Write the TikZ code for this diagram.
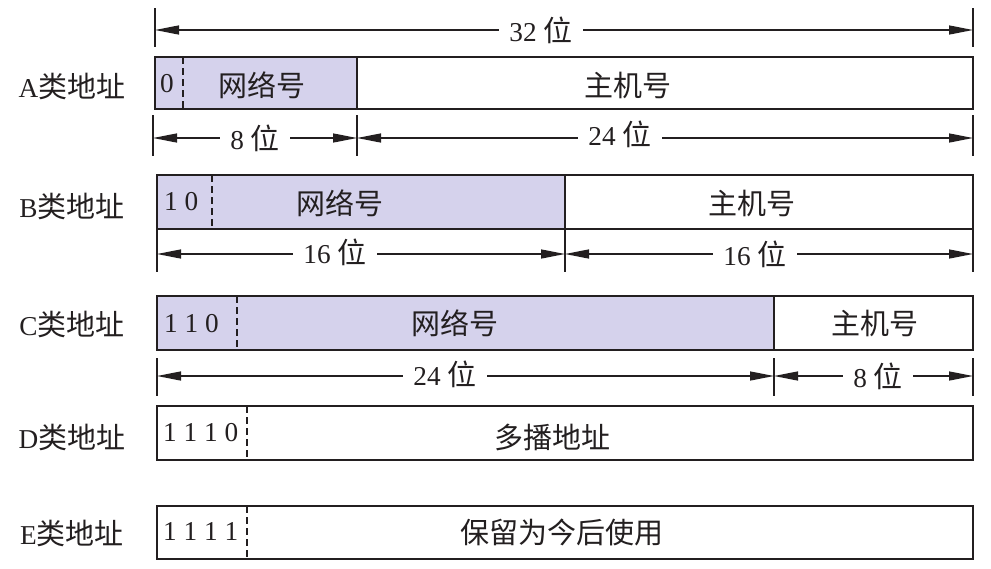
\documentclass[tikz,border=0pt]{standalone}
\usepackage{fontspec}
\setmainfont{Liberation Serif}[Scale=0.94]
\newfontfamily\cjk{Noto Sans CJK SC}
\usetikzlibrary{arrows.meta}
\definecolor{netc}{RGB}{213,210,236}
\definecolor{ink}{RGB}{35,31,32}
\tikzset{
  boxline/.style={draw=ink, line width=1.8pt},
  dashline/.style={draw=ink, line width=2pt, dash pattern=on 7pt off 4pt},
  tickline/.style={draw=ink, line width=1.4pt},
  dimline/.style={draw=ink, line width=1.3pt, {Triangle[length=24pt,width=9pt]}-{Triangle[length=24pt,width=9pt]}},
  lbl/.style={font=\fontsize{29}{31}\selectfont, text=ink, inner sep=0pt},
  dimlbl/.style={lbl, fill=white, inner xsep=10pt, inner ysep=2pt},
}
\begin{document}
\begin{tikzpicture}[x=1pt,y=-1pt]
\useasboundingbox[fill=white] (0,0) rectangle (991,568);
% ---------------- A ----------------
\node[lbl] (la) at (72,86) {A\cjk 类地址};
\fill[netc] (155,57) rectangle (357,109);
\draw[boxline] (155,57) rectangle (973,109);
\draw[boxline] (357,57) -- (357,109);
\draw[dashline] (183,57) -- (183,109);
\node[lbl, anchor=west] (a0) at (160,84) {0};
\node[lbl] (anet) at (262,85) {\cjk 网络号};
\node[lbl] (ahost) at (628,85) {\cjk 主机号};
% top 32
\coordinate (t1) at (155,30); \coordinate (t2) at (973,30);
\draw[tickline] (155,8) -- (155,47);
\draw[tickline] (973,8) -- (973,47);
\draw[dimline] (t1) -- (t2);
\node[dimlbl] (d32) at (541,30) {32 \cjk 位};
% below A
\coordinate (a1) at (153,138); \coordinate (a2) at (357,138); \coordinate (a3) at (973,138);
\draw[tickline] (153,115) -- (153,156);
\draw[tickline] (357,115) -- (357,156);
\draw[tickline] (973,115) -- (973,156);
\draw[dimline] (a1) -- (a2);
\draw[dimline] (a2) -- (a3);
\node[dimlbl] (d8a) at (255,138) {8 \cjk 位};
\node[dimlbl] (d24a) at (620,134) {24 \cjk 位};
% ---------------- B ----------------
\node[lbl] (lb) at (72,206) {B\cjk 类地址};
\fill[netc] (157,175) rectangle (565,229);
\draw[boxline] (157,175) rectangle (973,229);
\draw[boxline] (565,175) -- (565,229);
\draw[dashline] (212,175) -- (212,229);
\node[lbl, anchor=west] (b0) at (164,202) {1 0};
\node[lbl] (bnet) at (340,203) {\cjk 网络号};
\node[lbl] (bhost) at (752,203) {\cjk 主机号};
\coordinate (b1) at (157,254); \coordinate (b2) at (565,254); \coordinate (b3) at (973,254);
\draw[tickline] (157,230) -- (157,272);
\draw[tickline] (565,230) -- (565,272);
\draw[tickline] (973,230) -- (973,272);
\draw[dimline] (b1) -- (b2);
\draw[dimline] (b2) -- (b3);
\node[dimlbl] (d16a) at (335,252) {16 \cjk 位};
\node[dimlbl] (d16b) at (755,254) {16 \cjk 位};
% ---------------- C ----------------
\node[lbl] (lc) at (72,324) {C\cjk 类地址};
\fill[netc] (157,296) rectangle (774,350);
\draw[boxline] (157,296) rectangle (973,350);
\draw[boxline] (774,296) -- (774,350);
\draw[dashline] (237,296) -- (237,350);
\node[lbl, anchor=west] (c0) at (164,324) {1 1 0};
\node[lbl] (cnet) at (455,323) {\cjk 网络号};
\node[lbl] (chost) at (875,323) {\cjk 主机号};
\coordinate (c1) at (157,376); \coordinate (c2) at (774,376); \coordinate (c3) at (973,376);
\draw[tickline] (157,358) -- (157,396);
\draw[tickline] (774,358) -- (774,396);
\draw[tickline] (973,358) -- (973,396);
\draw[dimline] (c1) -- (c2);
\draw[dimline] (c2) -- (c3);
\node[dimlbl] (d24c) at (445,374) {24 \cjk 位};
\node[dimlbl] (d8c) at (878,376) {8 \cjk 位};
% ---------------- D ----------------
\node[lbl] (ld) at (72,437) {D\cjk 类地址};
\draw[boxline] (157,406) rectangle (973,460);
\draw[dashline] (247,406) -- (247,460);
\node[lbl, anchor=west] (d0) at (163,433) {1 1 1 0};
\node[lbl] (dtxt) at (552,437) {\cjk 多播地址};
% ---------------- E ----------------
\node[lbl] (le) at (72,533) {E\cjk 类地址};
\draw[boxline] (157,506) rectangle (973,559);
\draw[dashline] (247,506) -- (247,559);
\node[lbl, anchor=west] (e0) at (163,531) {1 1 1 1};
\node[lbl] (etxt) at (562,532) {\cjk 保留为今后使用};
\end{tikzpicture}
\end{document}
